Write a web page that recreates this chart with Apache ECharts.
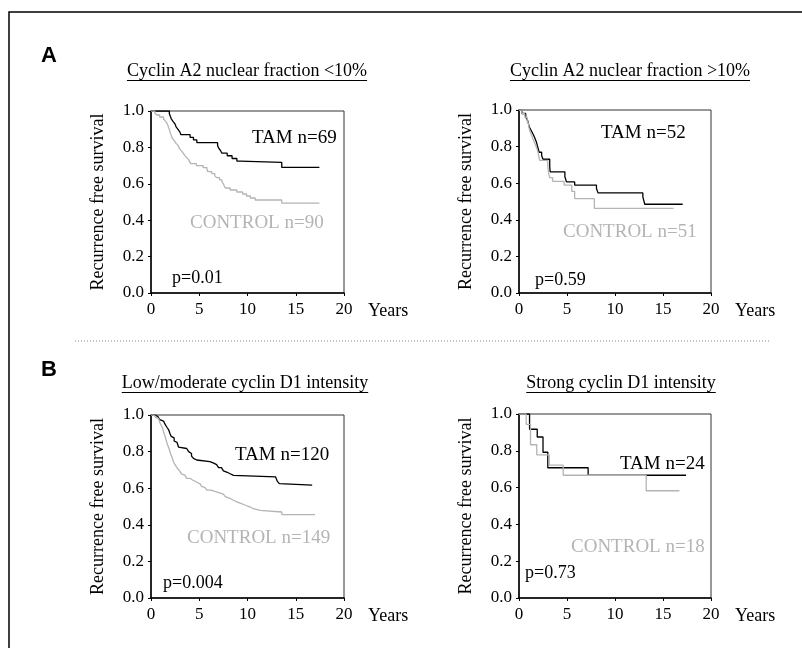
<!DOCTYPE html>
<html>
<head>
<meta charset="utf-8">
<script src="https://cdn.jsdelivr.net/npm/echarts@6/dist/echarts.min.js"></script>
<style>
html,body{margin:0;padding:0;background:#fff;}
#c{width:802px;height:648px;}
</style>
</head>
<body>
<div id="c"></div>
<script>
// ---- Data (Kaplan-Meier step points: time in years, survival fraction) ----
const xTicks = [0, 5, 10, 15, 20];
const yTicks = [0.0, 0.2, 0.4, 0.6, 0.8, 1.0];

const panelTitles = ["Cyclin A2 nuclear fraction <10%", "Cyclin A2 nuclear fraction >10%",
                     "Low/moderate cyclin D1 intensity", "Strong cyclin D1 intensity"];
const tamLabels = ["TAM n=69", "TAM n=52", "TAM n=120", "TAM n=24"];
const controlLabels = ["CONTROL n=90", "CONTROL n=51", "CONTROL n=149", "CONTROL n=18"];
const pValues = ["p=0.01", "p=0.59", "p=0.004", "p=0.73"];

// Panel A1: Cyclin A2 <10%
const a1TamT = [0, 1.9, 2.0, 2.1, 2.3, 2.5, 2.6, 2.8, 3.0, 3.1, 4.05, 4.4, 4.75, 6.9, 7.0, 7.2, 7.35, 7.9, 8.4, 8.9, 9.25, 13.55, 17.45];
const a1TamS = [1.0, 0.986, 0.971, 0.957, 0.942, 0.928, 0.913, 0.899, 0.884, 0.870, 0.855, 0.841, 0.826, 0.812, 0.797, 0.783, 0.768, 0.754, 0.739, 0.725, 0.718, 0.690, 0.690];
const a1CtlT = [0, 0.4, 0.6, 0.9, 1.3, 1.5, 1.65, 1.75, 1.8, 1.9, 1.95, 2.0, 2.1, 2.15, 2.3, 2.45, 2.6, 2.8, 2.9, 3.0, 3.2, 3.35, 3.5, 3.7, 3.9, 4.0, 4.1, 4.7, 5.4, 5.8, 5.9, 6.3, 6.6, 6.8, 7.1, 7.35, 7.5, 7.6, 7.7, 8.2, 8.9, 9.5, 9.9, 10.3, 10.8, 13.55, 17.45];
const a1CtlS = [1.0, 0.989, 0.978, 0.967, 0.956, 0.944, 0.933, 0.922, 0.911, 0.9, 0.889, 0.878, 0.867, 0.856, 0.844, 0.833, 0.822, 0.811, 0.8, 0.789, 0.778, 0.767, 0.756, 0.744, 0.733, 0.722, 0.711, 0.7, 0.689, 0.678, 0.667, 0.656, 0.645, 0.634, 0.622, 0.611, 0.6, 0.588, 0.577, 0.566, 0.555, 0.544, 0.533, 0.522, 0.511, 0.494, 0.494];

// Panel A2: Cyclin A2 >10%
const a2TamT = [0, 0.3, 0.7, 0.9, 1.0, 1.1, 1.3, 1.5, 1.66, 1.8, 1.9, 2.0, 2.1, 2.36, 2.5, 3.2, 3.25, 4.78, 4.95, 5.8, 8.07, 8.23, 12.9, 13.1, 17.05];
const a2TamS = [1.0, 0.981, 0.962, 0.942, 0.923, 0.904, 0.885, 0.865, 0.846, 0.827, 0.808, 0.788, 0.769, 0.75, 0.731, 0.69, 0.662, 0.635, 0.607, 0.59, 0.571, 0.547, 0.525, 0.485, 0.485];
const a2CtlT = [0, 0.3, 0.6, 0.85, 1.0, 1.05, 1.15, 1.3, 1.45, 1.6, 1.75, 1.9, 2.0, 2.15, 3.0, 3.1, 3.2, 3.5, 4.7, 5.5, 5.8, 7.85, 16.1];
const a2CtlS = [1.0, 0.98, 0.961, 0.941, 0.922, 0.902, 0.882, 0.863, 0.843, 0.824, 0.804, 0.784, 0.765, 0.725, 0.69, 0.65, 0.63, 0.61, 0.59, 0.555, 0.516, 0.462, 0.462];

// Panel B1: Low/moderate cyclin D1
const b1TamT = [0, 0.4, 0.7, 0.9, 1.1, 1.3, 1.45, 1.55, 1.65, 1.75, 1.85, 1.95, 2.1, 2.25, 2.4, 2.55, 2.7, 2.85, 3.0, 3.7, 3.9, 4.05, 4.2, 4.4, 4.6, 4.74, 6.1, 6.5, 6.8, 7.0, 7.3, 7.5, 7.7, 7.9, 8.2, 8.55, 12.9, 13.1, 13.3, 13.5, 16.7];
const b1TamS = [1.0, 0.992, 0.983, 0.975, 0.967, 0.958, 0.95, 0.942, 0.933, 0.925, 0.917, 0.9, 0.883, 0.875, 0.858, 0.85, 0.842, 0.825, 0.817, 0.808, 0.8, 0.79, 0.775, 0.763, 0.754, 0.745, 0.737, 0.729, 0.72, 0.712, 0.704, 0.695, 0.687, 0.679, 0.67, 0.662, 0.654, 0.637, 0.625, 0.617, 0.617];
const b1CtlT = [0, 0.3, 0.5, 0.7, 0.8, 0.9, 1.0, 1.1, 1.2, 1.28, 1.35, 1.45, 1.55, 1.63, 1.7, 1.8, 1.9, 1.97, 2.05, 2.15, 2.25, 2.32, 2.45, 2.6, 2.8, 3.0, 3.15, 3.3, 3.5, 3.7, 4.05, 4.3, 4.57, 4.8, 5.09, 5.25, 5.4, 5.6, 5.78, 6.2, 6.64, 7.1, 7.5, 7.7, 7.85, 8.2, 8.55, 8.9, 9.24, 9.6, 9.93, 10.3, 10.6, 11.3, 13.56, 17.0];
const b1CtlS = [1.0, 0.993, 0.987, 0.98, 0.973, 0.96, 0.953, 0.94, 0.927, 0.913, 0.9, 0.886, 0.866, 0.852, 0.839, 0.826, 0.812, 0.799, 0.785, 0.772, 0.758, 0.745, 0.732, 0.719, 0.705, 0.692, 0.678, 0.671, 0.664, 0.654, 0.645, 0.638, 0.631, 0.624, 0.617, 0.61, 0.603, 0.596, 0.589, 0.582, 0.575, 0.568, 0.561, 0.554, 0.544, 0.534, 0.525, 0.518, 0.511, 0.504, 0.497, 0.488, 0.479, 0.47, 0.456, 0.456];

// Panel B2: Strong cyclin D1
const b2TamT = [0, 1.1, 1.9, 2.5, 3.0, 7.2, 17.4];
const b2TamS = [1.0, 0.917, 0.875, 0.792, 0.708, 0.667, 0.667];
const b2CtlT = [0, 0.75, 1.2, 1.85, 3.15, 4.6, 13.25, 16.7];
const b2CtlS = [1.0, 0.944, 0.833, 0.778, 0.722, 0.667, 0.583, 0.583];

// ---- Layout / style ----
const SERIF = '"Liberation Serif", "Times New Roman", serif';
const SANS = '"Liberation Sans", Arial, sans-serif';
const BLACK = '#000000';
const GREY = '#b4b4b4';

const grids = [
  {left: 151, top: 111, width: 193, height: 182},
  {left: 519, top: 110, width: 192, height: 183},
  {left: 151, top: 415, width: 193, height: 183},
  {left: 519, top: 414, width: 192, height: 184}
];
const titlePos = [[247, 71], [630, 71], [245, 383], [621, 383]];
const annPos = [
  {tam: [252, 138], ctl: [190, 223], p: [172, 278]},
  {tam: [601, 133], ctl: [563, 232], p: [535, 280]},
  {tam: [235, 455], ctl: [187, 538], p: [163, 583]},
  {tam: [620, 464], ctl: [571, 547], p: [525, 573]}
];

const panels = [
  [a1TamT, a1TamS, a1CtlT, a1CtlS],
  [a2TamT, a2TamS, a2CtlT, a2CtlS],
  [b1TamT, b1TamS, b1CtlT, b1CtlS],
  [b2TamT, b2TamS, b2CtlT, b2CtlS]
];

function pairs(T, S) { return T.map((t, i) => [t, S[i]]); }

const measureCtx = document.createElement('canvas').getContext('2d');
function textWidth(t, font) { measureCtx.font = font; return measureCtx.measureText(t).width; }

const xAxes = [], yAxes = [], series = [], graphics = [];

grids.forEach((g, i) => {
  xAxes.push({
    gridIndex: i, type: 'value', min: xTicks[0], max: xTicks[xTicks.length - 1], interval: 5,
    name: 'Years', nameLocation: 'end', nameGap: 24,
    nameTextStyle: {fontFamily: SERIF, fontSize: 18, color: '#000', align: 'left', verticalAlign: 'top', padding: [9, 0, 0, 0]},
    axisLine: {show: true, lineStyle: {color: '#000', width: 1.5}},
    axisTick: {show: true, inside: false, length: 3, lineStyle: {color: '#000', width: 1}},
    axisLabel: {fontFamily: SERIF, fontSize: 17, color: '#000', margin: 8},
    splitLine: {show: false}
  });
  yAxes.push({
    gridIndex: i, type: 'value', min: yTicks[0], max: yTicks[yTicks.length - 1], interval: 0.2,
    name: 'Recurrence free survival', nameLocation: 'middle', nameGap: 44,
    nameTextStyle: {fontFamily: SERIF, fontSize: 18, color: '#000'},
    axisLine: {show: true, lineStyle: {color: '#000', width: 1.5}},
    axisTick: {show: true, inside: false, length: 3, lineStyle: {color: '#000', width: 1}},
    axisLabel: {fontFamily: SERIF, fontSize: 17, color: '#000', margin: 7, formatter: v => v.toFixed(1)},
    splitLine: {show: false}
  });
  const [tT, tS, cT, cS] = panels[i];
  series.push({
    type: 'line', xAxisIndex: i, yAxisIndex: i, step: 'end', showSymbol: false, symbol: 'none',
    data: pairs(tT, tS), lineStyle: {color: BLACK, width: 1.3}, z: 3, silent: true
  });
  series.push({
    type: 'line', xAxisIndex: i, yAxisIndex: i, step: 'end', showSymbol: false, symbol: 'none',
    data: pairs(cT, cS), lineStyle: {color: GREY, width: 1.3}, z: 4, silent: true
  });

  // Title with underline
  const tFont = '18px ' + SERIF;
  const tw = textWidth(panelTitles[i], tFont);
  const [cx, cy] = titlePos[i];
  graphics.push({type: 'text', left: null, x: cx, y: cy,
    style: {text: panelTitles[i], font: tFont, fill: '#000', textAlign: 'center', textVerticalAlign: 'middle'}});
  graphics.push({type: 'line', shape: {x1: cx - tw / 2, y1: cy + 9.5, x2: cx + tw / 2, y2: cy + 9.5},
    style: {stroke: '#000', lineWidth: 1}});

  const a = annPos[i];
  graphics.push({type: 'text', x: a.tam[0], y: a.tam[1],
    style: {text: tamLabels[i], font: '19px ' + SERIF, fill: '#000', textAlign: 'left', textVerticalAlign: 'middle'}});
  graphics.push({type: 'text', x: a.ctl[0], y: a.ctl[1],
    style: {text: controlLabels[i], font: '19px ' + SERIF, fill: GREY, textAlign: 'left', textVerticalAlign: 'middle'}});
  graphics.push({type: 'text', x: a.p[0], y: a.p[1],
    style: {text: pValues[i], font: '18px ' + SERIF, fill: '#000', textAlign: 'left', textVerticalAlign: 'middle'}});
});

// Outer frame, separator, panel letters
graphics.push({type: 'rect', shape: {x: 9, y: 12, width: 830, height: 680},
  style: {fill: 'none', stroke: '#000', lineWidth: 1.5}, z: -1});
graphics.push({type: 'line', shape: {x1: 75, y1: 341, x2: 770, y2: 341},
  style: {stroke: '#888', lineWidth: 1, lineDash: [1, 2]}});
graphics.push({type: 'text', x: 41, y: 56,
  style: {text: 'A', font: 'bold 22px ' + SANS, fill: '#000', textAlign: 'left', textVerticalAlign: 'middle'}});
graphics.push({type: 'text', x: 41, y: 370,
  style: {text: 'B', font: 'bold 22px ' + SANS, fill: '#000', textAlign: 'left', textVerticalAlign: 'middle'}});

const chart = echarts.init(document.getElementById('c'), null, {renderer: 'canvas'});
chart.setOption({
  animation: false,
  backgroundColor: '#fff',
  grid: grids.map(g => Object.assign({show: true, borderColor: '#333', borderWidth: 1, backgroundColor: 'transparent'}, g)),
  xAxis: xAxes,
  yAxis: yAxes,
  series: series,
  graphic: {elements: graphics}
});
</script>
</body>
</html>
